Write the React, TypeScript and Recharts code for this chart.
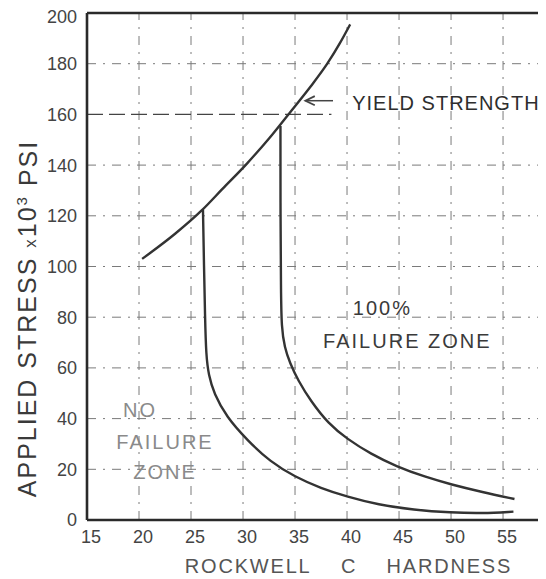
import React from 'react';
import { LineChart, Line, XAxis, YAxis, ReferenceLine, ReferenceDot } from 'recharts';

// Axis ticks
const xTicks = [15, 20, 25, 30, 35, 40, 45, 50, 55];
const yTicks = [0, 20, 40, 60, 80, 100, 120, 140, 160, 180, 200];
const gridX = [20, 25, 30, 35, 40, 45, 50, 55];
const gridY = [20, 40, 60, 80, 100, 120, 140, 180];

// Yield strength curve (Rockwell C vs stress, x10^3 PSI)
const yieldX = [20.3, 21.1, 23.5, 26.0, 28.0, 30.4, 32.5, 34.5, 36.5, 38.1, 39.3, 40.3];
const yieldY = [103, 105.4, 113, 122, 130.5, 140.7, 150.5, 160.7, 171, 180, 188, 195.5];

// Boundary of "no failure zone"
const zoneAX = [26.15, 26.25, 26.35, 26.45, 26.7, 27.2, 28.4, 30.4, 32.6, 35.0, 37.5, 40.0, 43.0, 46.4, 50.0, 53.0, 56.0];
const zoneAY = [122.4, 100, 80, 65, 57, 50, 40.7, 31.5, 23, 17, 12.5, 9.2, 6.0, 4.0, 2.9, 2.6, 3.3];

// Boundary of "100% failure zone"
const zoneBX = [33.6, 33.6, 33.65, 33.7, 34.0, 34.5, 35.3, 36.5, 38.2, 40.0, 42.3, 44.8, 47.5, 50.0, 53.0, 56.1];
const zoneBY = [155.4, 120, 90, 76, 68, 62, 55, 47, 38, 32, 26, 21, 17, 14, 11, 8.3];

// Arrow pointing at yield curve
const arrowShaftX = [36.0, 38.65];
const arrowShaftY = [165.4, 165.4];
const arrowHeadX = [36.9, 36.0, 36.9];
const arrowHeadY = [167.2, 165.4, 163.6];

// Annotations
const noteTexts = ['YIELD STRENGTH', '100%', 'FAILURE ZONE', 'NO', 'FAILURE', 'ZONE'];
const noteX = [40.5, 43.4, 45.8, 20.1, 22.5, 22.5];
const noteY = [164.5, 83.6, 70.6, 43.4, 30.8, 18.9];

const pts = (xs: number[], ys: number[]) => xs.map((x, i) => ({ x, y: ys[i] }));

const FONT = '"Liberation Sans", Arial, sans-serif';
const INK = '#333';
const GRID = '#7a7a7a';

const noteStyle = [
  { anchor: 'start', size: 20, fill: '#2e2e2e', ls: 1 },
  { anchor: 'middle', size: 20, fill: '#3a3a3a', ls: 2 },
  { anchor: 'middle', size: 20, fill: '#3a3a3a', ls: 2 },
  { anchor: 'middle', size: 20, fill: '#8a8a8a', ls: 2 },
  { anchor: 'middle', size: 20, fill: '#8a8a8a', ls: 2 },
  { anchor: 'middle', size: 20, fill: '#8a8a8a', ls: 2 },
];

const makeNote = (i: number) => (props: any) => {
  const vb = props.viewBox || {};
  const cx = (vb.x ?? 0) + (vb.width ?? 0) / 2;
  const cy = (vb.y ?? 0) + (vb.height ?? 0) / 2;
  const s = noteStyle[i];
  return (
    <text
      x={cx}
      y={cy}
      dy="0.36em"
      textAnchor={s.anchor as any}
      fontFamily={FONT}
      fontSize={s.size}
      letterSpacing={s.ls}
      fill={s.fill}
    >
      {noteTexts[i]}
    </text>
  );
};

const XTick = (props: any) => {
  const { x, y, payload } = props;
  return (
    <text x={x + 4} y={y} dy="0.71em" textAnchor="middle" fontFamily={FONT} fontSize={18} fill="#444">
      {payload.value}
    </text>
  );
};

const YTick = (props: any) => {
  const { x, y, payload } = props;
  return (
    <text x={x} y={y} dy="0.36em" textAnchor="end" fontFamily={FONT} fontSize={18} fill="#444">
      {payload.value}
    </text>
  );
};

const YLabel = (props: any) => {
  const vb = props.viewBox || { x: 0, y: 0, width: 79, height: 507 };
  const x = vb.x + 19;
  const y = vb.y + vb.height / 2 + 52;
  return (
    <text
      x={x}
      y={y}
      transform={`rotate(-90 ${x} ${y})`}
      dy="0.36em"
      textAnchor="middle"
      fontFamily={FONT}
      fontSize={25}
      letterSpacing={2}
      fill="#3a3a3a"
    >
      APPLIED STRESS <tspan fontSize={17}>x</tspan>10<tspan fontSize={15} dy="-0.6em">3</tspan>
      <tspan dy="0.38em"> PSI</tspan>
    </text>
  );
};

const XLabel = (props: any) => {
  const vb = props.viewBox || { x: 79, y: 512, width: 459, height: 59 };
  const cx = vb.x + vb.width / 2 + 32;
  const y = vb.y + 46;
  return (
    <text
      x={cx}
      y={y}
      dy="0.36em"
      textAnchor="middle"
      fontFamily={FONT}
      fontSize={20}
      letterSpacing={1.8}
      fill="#555"
      style={{ whiteSpace: 'pre' }}
    >
      {'ROCKWELL\u00A0\u00A0\u00A0\u00A0C\u00A0\u00A0\u00A0\u00A0HARDNESS'}
    </text>
  );
};

export default function App() {
  return (
    <LineChart width={538} height={571} margin={{ top: 5, right: 0, bottom: 0, left: 0 }}>
      <XAxis
        type="number"
        dataKey="x"
        domain={[15, 59.13]}
        ticks={xTicks}
        allowDataOverflow
        height={59}
        tickSize={0}
        tickMargin={10}
        tick={<XTick />}
        axisLine={{ stroke: '#2a2a2a', strokeWidth: 2.6 }}
        tickLine={false}
        label={<XLabel />}
      />
      <YAxis
        type="number"
        dataKey="y"
        domain={[0, 200]}
        ticks={yTicks}
        allowDataOverflow
        width={79}
        tickSize={0}
        tickMargin={10}
        tick={<YTick />}
        axisLine={{ stroke: '#2a2a2a', strokeWidth: 2.6 }}
        tickLine={false}
        label={<YLabel />}
      />

      {gridY.map((v) => (
        <ReferenceLine key={`gy${v}`} y={v} stroke={GRID} strokeWidth={1} strokeDasharray="9 7 2 7" />
      ))}
      {gridX.map((v) => (
        <ReferenceLine key={`gx${v}`} x={v} stroke={GRID} strokeWidth={1} strokeDasharray="9 7 2 7" />
      ))}
      <ReferenceLine
        segment={[{ x: 15, y: 160 }, { x: 38.5, y: 160 }]}
        stroke="#444"
        strokeWidth={1.3}
        strokeDasharray="16 6"
      />
      <ReferenceLine y={200} stroke="#2a2a2a" strokeWidth={2.6} />

      <Line
        data={pts(yieldX, yieldY)}
        dataKey="y"
        type="monotone"
        stroke={INK}
        strokeWidth={2.4}
        dot={false}
        isAnimationActive={false}
      />
      <Line
        data={pts(zoneAX, zoneAY)}
        dataKey="y"
        type="basis"
        stroke={INK}
        strokeWidth={2.4}
        dot={false}
        isAnimationActive={false}
      />
      <Line
        data={pts(zoneBX, zoneBY)}
        dataKey="y"
        type="basis"
        stroke={INK}
        strokeWidth={2.4}
        dot={false}
        isAnimationActive={false}
      />
      <Line
        data={pts(arrowShaftX, arrowShaftY)}
        dataKey="y"
        type="linear"
        stroke="#444"
        strokeWidth={1.5}
        dot={false}
        isAnimationActive={false}
      />
      <Line
        data={pts(arrowHeadX, arrowHeadY)}
        dataKey="y"
        type="linear"
        stroke="#444"
        strokeWidth={1.8}
        fill="#444"
        dot={false}
        isAnimationActive={false}
      />

      {noteTexts.map((t, i) => (
        <ReferenceDot
          key={t + i}
          x={noteX[i]}
          y={noteY[i]}
          r={0}
          fill="none"
          stroke="none"
          label={makeNote(i)}
        />
      ))}
    </LineChart>
  );
}
